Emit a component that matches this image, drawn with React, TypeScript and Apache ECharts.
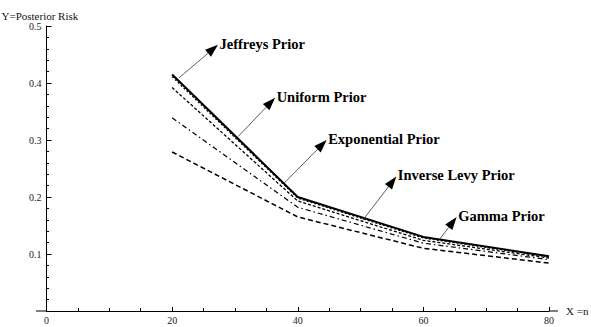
import React, { useEffect, useRef } from "react";
import * as echarts from "echarts";

// ---- data ----
const nValues = [20, 40, 60, 80];
const jeffreysRisk = [0.415, 0.2, 0.13, 0.096];
const gammaRisk = [0.411, 0.198, 0.128, 0.095];
const uniformRisk = [0.392, 0.193, 0.124, 0.093];
const exponentialRisk = [0.339, 0.182, 0.119, 0.09];
const inverseLevyRisk = [0.279, 0.165, 0.11, 0.084];

const annotationNames = [
  "Jeffreys Prior",
  "Uniform Prior",
  "Exponential Prior",
  "Inverse Levy Prior",
  "Gamma Prior",
];
const annotationFromX = [21.1, 30.5, 37.9, 50.2, 62.6];
const annotationFromY = [0.409, 0.306, 0.225, 0.157, 0.126];
const annotationToX = [27.3, 36.4, 44.6, 55.7, 65.3];
const annotationToY = [0.467, 0.374, 0.3, 0.236, 0.165];

const xMin = 0;
const xMax = 80;
const xStep = 20;
const yMin = 0;
const yMax = 0.5;
const yStep = 0.1;

const FONT = '"Liberation Serif", "DejaVu Serif", serif';

function pairs(ys: number[]) {
  return nValues.map((x, i) => [x, ys[i]]);
}

export default function App() {
  const ref = useRef<HTMLDivElement>(null);

  useEffect(() => {
    if (!ref.current) return;
    const chart = echarts.init(ref.current, undefined, { renderer: "svg" });

    const lineSeries = (name: string, ys: number[], type: any, width: number, dash?: number[]) => ({
      name,
      type: "line",
      data: pairs(ys),
      symbol: "none",
      silent: true,
      lineStyle: {
        color: "#000",
        width,
        type: dash ? dash : type,
      },
      z: 3,
    });

    const annotationData = annotationNames.map((_, i) => [
      annotationFromX[i],
      annotationFromY[i],
      annotationToX[i],
      annotationToY[i],
    ]);

    const option: any = {
      animation: false,
      backgroundColor: "#fff",
      grid: {
        left: 46.5,
        top: 26,
        right: 42,
        bottom: 16,
        containLabel: false,
        outerBoundsMode: "none",
      },
      xAxis: {
        type: "value",
        min: xMin,
        max: xMax,
        interval: xStep,
        name: "X =n",
        nameLocation: "end",
        nameGap: 17,
        nameTextStyle: { fontFamily: FONT, fontSize: 11, color: "#111", verticalAlign: "middle" },
        axisLine: { show: true, onZero: true, lineStyle: { color: "#000", width: 1 } },
        axisTick: { show: true, inside: true, length: 4, lineStyle: { color: "#000" } },
        minorTick: { show: true, splitNumber: 4, length: 3, lineStyle: { color: "#000" } },
        axisLabel: { fontFamily: FONT, fontSize: 10, color: "#222", margin: 4 },
        splitLine: { show: false },
        minorSplitLine: { show: false },
      },
      yAxis: {
        type: "value",
        min: yMin,
        max: yMax,
        interval: yStep,
        name: "Y=Posterior Risk",
        nameLocation: "end",
        nameGap: 5,
        nameTextStyle: { fontFamily: FONT, fontSize: 11, color: "#111", align: "left", padding: [0, 0, 0, -45] },
        axisLine: { show: true, onZero: true, lineStyle: { color: "#000", width: 1 } },
        axisTick: { show: true, inside: true, length: 5, lineStyle: { color: "#000" } },
        minorTick: { show: true, splitNumber: 5, length: 2.5, lineStyle: { color: "#000" } },
        axisLabel: {
          fontFamily: FONT,
          fontSize: 10,
          color: "#222",
          margin: 5,
          showMinLabel: false,
          formatter: (v: number) => v.toFixed(1),
        },
        splitLine: { show: false },
        minorSplitLine: { show: false },
      },
      series: [
        lineSeries("Inverse Levy Prior", inverseLevyRisk, "dashed", 1.5, [5, 3]),
        lineSeries("Exponential Prior", exponentialRisk, "dashed", 1.2, [5, 3, 1.5, 3]),
        lineSeries("Uniform Prior", uniformRisk, "dashed", 1.3, [3, 2]),
        lineSeries("Gamma Prior", gammaRisk, "dotted", 1.2, [2, 2]),
        lineSeries("Jeffreys Prior", jeffreysRisk, "solid", 2),
        {
          name: "annotations",
          type: "custom",
          silent: true,
          clip: false,
          z: 5,
          encode: { x: [0, 2], y: [1, 3] },
          data: annotationData,
          renderItem: (params: any, api: any) => {
            const s = api.coord([api.value(0), api.value(1)]);
            const e = api.coord([api.value(2), api.value(3)]);
            const dx = e[0] - s[0];
            const dy = e[1] - s[1];
            const len = Math.hypot(dx, dy) || 1;
            const ux = dx / len;
            const uy = dy / len;
            const headLen = 13;
            const headW = 4.5;
            const bx = e[0] - ux * headLen;
            const by = e[1] - uy * headLen;
            const px = -uy;
            const py = ux;
            return {
              type: "group",
              children: [
                {
                  type: "line",
                  shape: { x1: s[0], y1: s[1], x2: bx, y2: by },
                  style: { stroke: "#333", lineWidth: 0.8 },
                },
                {
                  type: "polygon",
                  shape: {
                    points: [
                      [e[0], e[1]],
                      [bx + px * headW, by + py * headW],
                      [bx - px * headW, by - py * headW],
                    ],
                  },
                  style: { fill: "#000" },
                },
                {
                  type: "text",
                  x: e[0] + 1.5,
                  y: e[1] - 1,
                  style: {
                    text: annotationNames[params.dataIndex],
                    fontFamily: FONT,
                    fontWeight: "bold",
                    fontSize: 14.5,
                    fill: "#000",
                    align: "left",
                    verticalAlign: "middle",
                  },
                },
              ],
            };
          },
        },
      ],
    };

    chart.setOption(option);

    // extend the x axis line slightly past both ends, as in the reference
    const p0 = chart.convertToPixel({ gridIndex: 0 }, [xMin, yMin]) as number[];
    const p1 = chart.convertToPixel({ gridIndex: 0 }, [xMax, yMin]) as number[];
    if (p0 && p1) {
      chart.setOption({
        graphic: [
          {
            type: "line",
            shape: { x1: p0[0] - 10.5, y1: p0[1], x2: p0[0], y2: p0[1] },
            style: { stroke: "#000", lineWidth: 1 },
            silent: true,
          },
          {
            type: "line",
            shape: { x1: p1[0], y1: p1[1], x2: p1[0] + 9, y2: p1[1] },
            style: { stroke: "#000", lineWidth: 1 },
            silent: true,
          },
        ],
      });
    }

    return () => {
      chart.dispose();
    };
  }, []);

  return (
    <div
      ref={ref}
      style={{ position: "fixed", left: 0, top: 0, width: 591, height: 327, background: "#fff" }}
    />
  );
}
